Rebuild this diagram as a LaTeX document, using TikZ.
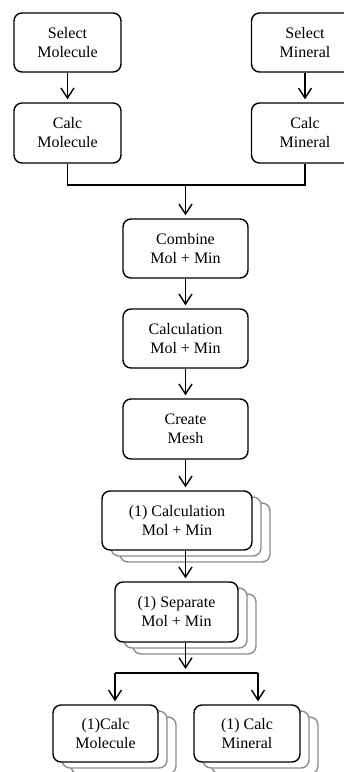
\documentclass[tikz,border=0pt]{standalone}
\usepackage{fontspec}
\setmainfont{Liberation Serif}
\usetikzlibrary{arrows.meta,shadows}
\begin{document}
\begin{tikzpicture}[x=1pt,y=-1pt,
  box/.style={draw=black,line width=1.4pt,rounded corners=8pt,fill=white,
    align=center,font=\fontsize{16}{19}\selectfont,inner sep=0pt},
  stack/.style={double copy shadow={shadow xshift=9pt,shadow yshift=-6pt,
    draw=black!45,fill=white,line width=1.4pt}},
  conn/.style={line width=1.4pt},
  arr/.style={line width=1.4pt,-{Straight Barb[length=10pt,width=13pt,line width=1.4pt]},shorten >=3pt}]
\useasboundingbox (0,0) rectangle (344,772);
\clip (0,0) rectangle (344,772);
\node[box,minimum width=107pt,minimum height=59pt] (selmol) at (67.5,42.5) {Select\\Molecule};
\node[box,minimum width=107pt,minimum height=59pt] (selmin) at (305,42.5) {Select\\Mineral};
\node[box,minimum width=107pt,minimum height=60pt] (calcmol) at (67.5,133) {Calc\\Molecule};
\node[box,minimum width=107pt,minimum height=60pt] (calcmin) at (305,133) {Calc\\Mineral};
\node[box,minimum width=125pt,minimum height=59pt] (comb) at (185.5,248.5) {Combine\\Mol + Min};
\node[box,minimum width=125pt,minimum height=59pt] (calc) at (185.5,338.5) {Calculation\\Mol + Min};
\node[box,minimum width=125pt,minimum height=60pt] (mesh) at (185.5,429) {Create\\Mesh};
\node[box,stack,minimum width=150pt,minimum height=59pt] (calcone) at (177,520.5) {(1) Calculation\\Mol + Min};
\node[box,stack,minimum width=123pt,minimum height=60pt] (sep) at (176.5,612) {(1) Separate\\Mol + Min};
\node[box,stack,minimum width=105pt,minimum height=57pt] (cmol) at (105.5,733.5) {(1)Calc\\Molecule};
\node[box,stack,minimum width=106pt,minimum height=57pt] (cmin) at (247,733.5) {(1) Calc\\Mineral};
\coordinate (J) at (185.5,185);
\coordinate (S) at (185.5,673);
\coordinate (L) at (115,673);
\coordinate (R) at (258,673);
\draw[arr] (selmol) -- (calcmol);
\draw[arr] (selmin) -- (calcmin);
\draw[conn] (calcmol.south) |- (J) -| (calcmin.south);
\draw[arr] (J) -- (comb.north);
\draw[arr] (comb) -- (calc);
\draw[arr] (calc) -- (mesh);
\draw[arr] (mesh.south) -- (mesh.south |- calcone.north);
\draw[arr] (mesh.south |- calcone.south) -- (mesh.south |- sep.north);
\draw[arr,shorten >=4pt] (mesh.south |- sep.south) -- (S);
\draw[conn] (L) -- (R);
\draw[arr] (L) -- (L |- cmol.north);
\draw[arr] (R) -- (R |- cmin.north);
\end{tikzpicture}
\end{document}
